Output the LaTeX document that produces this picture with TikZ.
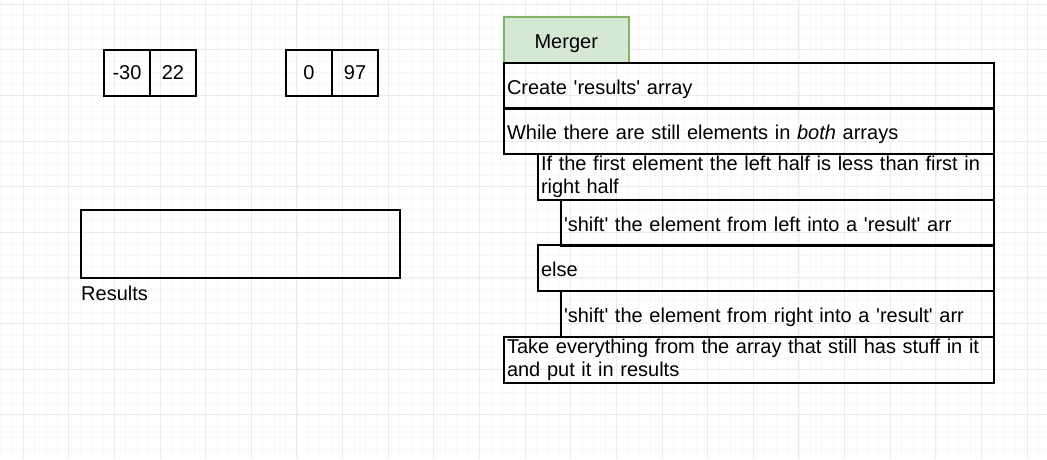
\documentclass[tikz,border=0pt]{standalone}
\usepackage{fontspec}
\setmainfont{Liberation Sans}
\usetikzlibrary{positioning}
\definecolor{gridmaj}{HTML}{EBEBEB}
\definecolor{gridmin}{HTML}{F8F8F8}
\definecolor{mergefill}{HTML}{D5E8D4}
\definecolor{mergeline}{HTML}{82B366}
\newcommand{\q}{\textquotesingle}

\begin{document}
\begin{tikzpicture}[x=1pt, y=-1pt,
    txt/.style={font=\fontsize{20}{23}\selectfont},
    cell/.style={txt, draw, line width=2pt, minimum width=46pt, minimum height=46pt, inner sep=0pt, outer sep=0pt},
    rowtwo/.style={txt, draw, line width=2pt, anchor=north west, minimum height=46pt, inner xsep=3pt, inner ysep=1pt,
                   align=left, text width=#1},
    row/.style={rowtwo=#1, text height=18pt, text depth=1pt},
  ]
        % canvas and grid
        \useasboundingbox (0,0) rectangle (1047,459);
        \fill[white] (0,0) rectangle (1047,459);
        \foreach \i in {0,...,95} \draw[gridmin, line width=0.6pt] ({-22.64+11.41*\i},0) -- ++(0,459);
        \foreach \i in {0,...,44} \draw[gridmin, line width=0.6pt] (0,{-41.64+11.41*\i}) -- ++(1047,0);
        \foreach \i in {0,...,23} \draw[gridmaj, line width=0.8pt] ({-22.64+45.64*\i},0) -- ++(0,459);
        \foreach \i in {0,...,11} \draw[gridmaj, line width=0.8pt] (0,{-41.64+45.64*\i}) -- ++(1047,0);

        % the two halves
        \node[cell] (l1) at (127,73) {-30};
        \node[cell, right=0pt of l1] (l2) {22};
        \node[cell] (r1) at (309,73) {0};
        \node[cell, right=0pt of r1] (r2) {97};

        % results
        \node[cell, minimum width=319pt, minimum height=68pt] (res) at (240.5,244) {};
        \node[txt, inner sep=0pt, below right=8pt and 0pt of res.south west] (reslabel) {Results};

        % merger steps
        \node[txt, draw=mergeline, fill=mergefill, line width=1.5pt, anchor=north west, text height=18pt, text depth=1pt,
              minimum width=125pt, minimum height=46pt] (merger) at (503,16) {Merger};
        \node[row=484pt] (create) at (503,62) {Create \q results\q{} array};
        \node[row=484pt] (whilebox) at (503,107) {While there are still elements in \textit{both} arrays};
        \node[rowtwo=450pt] (ifbox) at (537,153) {If the first element the left half is less than first in\\right half};
        \node[row=427pt] (shiftl) at (560,199) {\q shift\q{} the element from left into a \q result\q{} arr};
        \node[row=450pt] (elsebox) at (537,244) {else};
        \node[row=427pt] (shiftr) at (560,290) {\q shift\q{} the element from right into a \q result\q{} arr};
        \node[rowtwo=484pt] (take) at (503,336) {Take everything from the array that still has stuff in it\\and put it in results};
    \end{tikzpicture}
\end{document}
